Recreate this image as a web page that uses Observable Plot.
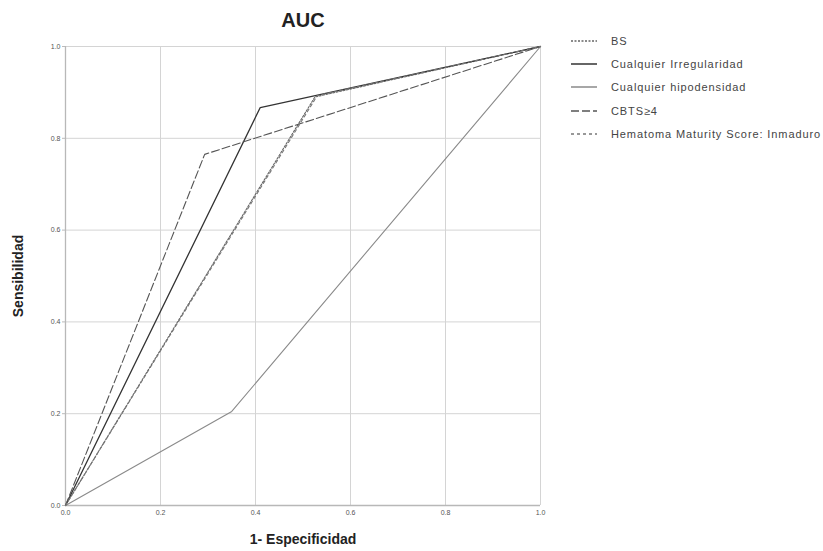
<!DOCTYPE html>
<html>
<head>
<meta charset="utf-8">
<script src="https://cdn.jsdelivr.net/npm/d3@7"></script>
<script src="https://cdn.jsdelivr.net/npm/@observablehq/plot@0.6"></script>
<style>
  html, body { margin: 0; padding: 0; background: #fff; }
  #wrap { position: relative; width: 823px; height: 551px; font-family: "Liberation Sans", Arial, sans-serif; }
  #legend { position: absolute; left: 569px; top: 29px; }
  .row { display: flex; align-items: center; height: 23.3px; font-size: 11px; letter-spacing: 0.9px; color: #444; white-space: nowrap; }
  .row svg { margin-right: 14px; }
</style>
</head>
<body>
<div id="wrap"><div id="legend"></div></div>
<script>
const seriesNames = ["BS", "Cualquier Irregularidad", "Cualquier hipodensidad", "CBTS≥4", "Hematoma Maturity Score: Inmaduro"];
const fprBS = [0, 0.525, 1];
const tprBS = [0, 0.89, 1];
const fprIrreg = [0, 0.41, 1];
const tprIrreg = [0, 0.867, 1];
const fprHipo = [0, 0.35, 1];
const tprHipo = [0, 0.205, 1];
const fprCBTS = [0, 0.293, 1];
const tprCBTS = [0, 0.765, 1];
const fprHMS = [0, 0.53, 1];
const tprHMS = [0, 0.893, 1];
const tickValues = [0, 0.2, 0.4, 0.6, 0.8, 1.0];
const tickLabels = ["0.0", "0.2", "0.4", "0.6", "0.8", "1.0"];

const fprs = [fprBS, fprIrreg, fprHipo, fprCBTS, fprHMS];
const tprs = [tprBS, tprIrreg, tprHipo, tprCBTS, tprHMS];
const styles = [
  {stroke: "#666", dash: "2,1.5", width: 1.1},
  {stroke: "#333", dash: null, width: 1.3},
  {stroke: "#8a8a8a", dash: null, width: 1.1},
  {stroke: "#555", dash: "8,3", width: 1.1},
  {stroke: "#777", dash: "3,3", width: 1.1}
];

const marks = [
  Plot.gridX(tickValues, {stroke: "#d4d4d4", strokeOpacity: 1, strokeWidth: 1}),
  Plot.gridY(tickValues, {stroke: "#d4d4d4", strokeOpacity: 1, strokeWidth: 1}),
  Plot.ruleX([0], {stroke: "#b8b8b8", strokeWidth: 1.3}),
  Plot.ruleY([0], {stroke: "#b8b8b8", strokeWidth: 1.3}),
  Plot.axisX(tickValues, {tickSize: 0, tickPadding: 5, tickFormat: (d, i) => tickLabels[i], fontSize: 7, color: "#555", label: null}),
  Plot.axisY(tickValues, {tickSize: 3, tickPadding: 2, tickFormat: (d, i) => tickLabels[i], fontSize: 7, color: "#555", stroke: "#bbb", label: null}),
];
seriesNames.forEach((name, i) => {
  const data = fprs[i].map((x, j) => ({x, y: tprs[i][j]}));
  const s = styles[i];
  marks.push(Plot.line(data, {x: "x", y: "y", stroke: s.stroke, strokeWidth: s.width, strokeDasharray: s.dash || undefined}));
});
marks.push(Plot.text(["AUC"], {frameAnchor: "top", dy: -34, fontSize: 20, fontWeight: "bold", fill: "#222"}));
marks.push(Plot.text(["1- Especificidad"], {frameAnchor: "bottom", dy: 38, fontSize: 14, fontWeight: "bold", fill: "#222"}));
marks.push(Plot.text(["Sensibilidad"], {frameAnchor: "left", dx: -47, rotate: -90, textAnchor: "middle", lineAnchor: "middle", fontSize: 14, fontWeight: "bold", fill: "#222"}));

const chart = Plot.plot({
  width: 823,
  height: 551,
  marginLeft: 65,
  marginRight: 283,
  marginTop: 46,
  marginBottom: 46,
  style: {fontFamily: "Liberation Sans, Arial, sans-serif", background: "#fff"},
  x: {domain: [0, 1]},
  y: {domain: [0, 1]},
  marks
});
const wrap = document.getElementById("wrap");
wrap.insertBefore(chart, wrap.firstChild);

const legend = document.getElementById("legend");
seriesNames.forEach((name, i) => {
  const s = styles[i];
  const row = document.createElement("div");
  row.className = "row";
  row.innerHTML = `<svg width="28" height="6"><line x1="2" y1="3" x2="28" y2="3" stroke="${s.stroke}" stroke-width="1.5" ${s.dash ? `stroke-dasharray="${s.dash}"` : ""}/></svg><span>${name}</span>`;
  legend.appendChild(row);
});
</script>
</body>
</html>
